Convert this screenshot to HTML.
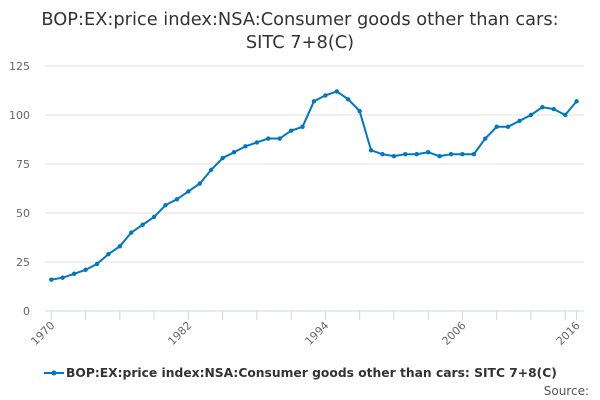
<!DOCTYPE html>
<html><head><meta charset="utf-8"><style>
body{margin:0;background:#fff;font-family:"DejaVu Sans",sans-serif}
svg{display:block;font-family:"DejaVu Sans",sans-serif}
</style></head><body>
<svg width="600" height="400" id="c">
<text x="300" y="25" text-anchor="middle" font-size="17.8" fill="#333">BOP:EX:price index:NSA:Consumer goods other than cars:</text>
<text x="300" y="48" text-anchor="middle" font-size="17.8" fill="#333">SITC 7+8(C)</text>
<g id="grid"></g><g id="axes"></g><g id="series"></g>
<g>
<line x1="44" y1="373" x2="64" y2="373" stroke="#0077c0" stroke-width="2"/>
<circle cx="54" cy="373" r="2.5" fill="#0077c0"/>
<text x="66" y="377" font-size="12.3" font-weight="bold" fill="#333">BOP:EX:price index:NSA:Consumer goods other than cars: SITC 7+8(C)</text>
</g>
<text x="589" y="395" text-anchor="end" font-size="12" fill="#555">Source:</text>
</svg>
<script>
const years=[];for(let y=1970;y<=2016;y++)years.push(y);
const values=[16,17,19,21,24,29,33,40,44,48,54,57,61,65,72,78,81,84,86,88,88,92,94,107,110,112,108,102,82,80,79,80,80,81,79,80,80,80,88,94,94,97,100,104,103,100,107];
const yTicks=[0,25,50,75,100,125];
const xLabels=[1970,1982,1994,2006,2016];
const NS="http://www.w3.org/2000/svg";
const X=y=>51.3+(y-1970)*11.42, Y=v=>311-v*(245/125);
function mk(t,a,p){const e=document.createElementNS(NS,t);for(const k in a)e.setAttribute(k,a[k]);p.appendChild(e);return e;}
const g=document.getElementById('grid'),ax=document.getElementById('axes'),s=document.getElementById('series');
yTicks.forEach(v=>{
 if(v>0){const l=mk('line',{x1:45,x2:584,y1:Y(v),y2:Y(v),stroke:'#e0e0e0','stroke-width':1},g);
 
 }
 const t=mk('text',{x:30,y:Y(v)+4,'text-anchor':'end','font-size':11,fill:'#666'},ax);t.textContent=v;
 
 
});
const base=mk('line',{x1:45,x2:584,y1:311,y2:311,stroke:'#ccd6eb','stroke-width':1},ax);


for(let y=1970;y<=2016;y+=3){const tk=mk('line',{x1:X(y),x2:X(y),y1:311,y2:320,stroke:'#ccd6eb'},ax);
 
 }
mk('line',{x1:X(2016),x2:X(2016),y1:311,y2:320,stroke:'#ccd6eb'},ax);
xLabels.forEach(y=>{const t=mk('text',{x:X(y)+4,y:326,'text-anchor':'end','font-size':11,fill:'#666',transform:`rotate(-45 ${X(y)+4} 326)`},ax);t.textContent=y;
 
 });
const p=mk('polyline',{points:values.map((v,i)=>X(years[i])+','+Y(v)).join(' '),fill:'none',stroke:'#0077c0','stroke-width':2},s);


values.forEach((v,i)=>{const c=mk('circle',{cx:X(years[i]),cy:Y(v),r:2.2,fill:'#0077c0'},s);
 
 });
</script>
</body></html>
